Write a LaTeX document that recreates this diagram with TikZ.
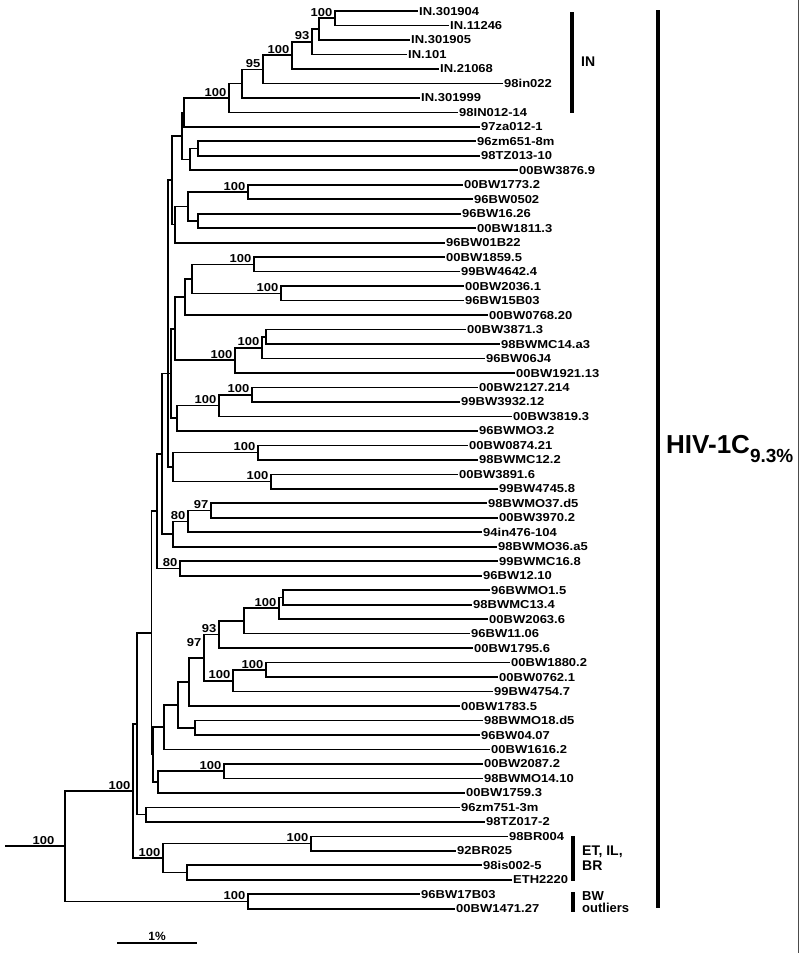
\documentclass[tikz,border=0pt]{standalone}
\usepackage{fontspec}
\setmainfont{Liberation Sans}
\newfontfamily\treefont{Liberation Sans}[FakeStretch=1.13]
\newfontfamily\cladefont{Liberation Sans}
\usetikzlibrary{positioning, calc}
\tikzstyle{leaf} = [anchor=west, inner sep=1pt, font=\treefont\bfseries\fontsize{11.5}{11}\selectfont, text height=8pt, text depth=0pt]
\tikzstyle{boot} = [anchor=south east, inner sep=0.5pt, xshift=-2pt, yshift=1pt, font=\treefont\bfseries\fontsize{11.5}{11}\selectfont]
\tikzstyle{branch} = [line width=1.7pt]
\tikzstyle{cladebar} = [line width=3.2pt]
\tikzstyle{cladetext} = [anchor=west, inner sep=0pt, align=left, font=\cladefont\bfseries\fontsize{14}{15}\selectfont]

\begin{document}
\begin{tikzpicture}[x=1pt, y=-14.48pt]
  \useasboundingbox (0pt,0pt) rectangle (800pt,-953pt);
  \begin{scope}[yshift=-11pt]
  % Leaves
  \foreach \k/\x/\txt in {0/418/IN.301904, 1/449/IN.11246, 2/410/IN.301905, 3/407/IN.101,
      4/439/IN.21068, 5/503/98in022, 6/420/IN.301999, 7/458/98IN012-14, 8/480/97za012-1,
      9/476/96zm651-8m, 10/480/98TZ013-10, 11/518/00BW3876.9, 12/463/00BW1773.2,
      13/473/96BW0502, 14/461/96BW16.26, 15/476/00BW1811.3, 16/445/96BW01B22,
      17/445/00BW1859.5, 18/460/99BW4642.4, 19/464/00BW2036.1, 20/464/96BW15B03,
      21/488/00BW0768.20, 22/466/00BW3871.3, 23/500/98BWMC14.a3, 24/485/96BW06J4,
      25/515/00BW1921.13, 26/478/00BW2127.214, 27/460/99BW3932.12, 28/512/00BW3819.3,
      29/478/96BWMO3.2, 30/468/00BW0874.21, 31/478/98BWMC12.2, 32/458/00BW3891.6,
      33/498/99BW4745.8, 34/487/98BWMO37.d5, 35/498/00BW3970.2, 36/482/94in476-104,
      37/497/98BWMO36.a5, 38/498/99BWMC16.8, 39/482/96BW12.10, 40/490/96BWMO1.5,
      41/472/98BWMC13.4, 42/488/00BW2063.6, 43/470/96BW11.06, 44/473/00BW1795.6,
      45/510/00BW1880.2, 46/498/00BW0762.1, 47/493/99BW4754.7, 48/460/00BW1783.5,
      49/483/98BWMO18.d5, 50/480/96BW04.07, 51/490/00BW1616.2, 52/483/00BW2087.2,
      53/483/98BWMO14.10, 54/465/00BW1759.3, 55/460/96zm751-3m, 56/485/98TZ017-2,
      57/508/98BR004, 58/456/92BR025, 59/482/98is002-5, 60/512/ETH2220,
      61/420/96BW17B03, 62/455/00BW1471.27}
    \node[leaf] (l\k) at (\x,\k) {\txt};
  % Internal nodes
  \foreach \n/\x/\y in {n1/335/0.5, n2/319/1.25, n3/312/2.125, n4/292/3.0625, n5/263/4.031,
      n6/242/5.016, n7/229/6.008, n8/184/7.004, n10/198/9.5, n11/190/10.25, n9/182/8.627,
      n13/248/12.5, n14/198/14.5, n15/188/13.5, n16/175/14.75, n12/172/11.689, n17/168/25.03,
      a1/254/17.5, a2/281/19.5, a3/192/18.5, a4/185/19.75, a5/266/22.5, a6/262/23.25,
      a7/235/24.125, a8/175/21.94, a9/252/26.5, a10/219/27.25, a11/177/28.125, a12/171/25.03,
      c1/258/30.5, c2/271/32.5, c3/173/31.5, c4/211/34.5, c5/188/35.25, c6/173/36.125,
      c7/180/38.5, c8/162/30.58, c9/157/34.54,
      d1/283/40.5, d2/279/41.25, d3/244/42.125, d4/219/43.06, d5/266/45.5, d6/233/46.25,
      d7/204/44.66, d8/189/46.33, d9/195/49.5, d10/178/47.91, d11/164/49.46, d12/224/52.5,
      d13/158/53.25, d14/153/51.35, d15/151.5/42.95, d16/146/55.5, d17/137/49.22,
      e1/311/57.5, e2/187/59.5, e3/163/58.5, e4/133/53.86, e5/248/61.5, root/65/57.68}
    \coordinate (\n) at (\x,\y);
  \coordinate (stem) at (5,57.68);
  % Branches
  \foreach \pa/\ch in {n1/l0, n1/l1, n2/n1, n2/l2, n3/n2, n3/l3, n4/n3, n4/l4, n5/n4, n5/l5,
      n6/n5, n6/l6, n7/n6, n7/l7, n8/n7, n8/l8, n10/l9, n10/l10, n11/n10, n11/l11, n9/n8, n9/n11,
      n13/l12, n13/l13, n14/l14, n14/l15, n15/n13, n15/n14, n16/n15, n16/l16, n12/n9, n12/n16,
      n17/n12, n17/a12, n17/c3,
      a1/l17, a1/l18, a2/l19, a2/l20, a3/a1, a3/a2, a4/a3, a4/l21, a5/l22, a5/l23, a6/a5, a6/l24,
      a7/a6, a7/l25, a8/a4, a8/a7, a9/l26, a9/l27, a10/a9, a10/l28, a11/a10, a11/l29,
      a12/a8, a12/a11,
      c1/l30, c1/l31, c2/l32, c2/l33, c3/c1, c3/c2, c4/l34, c4/l35, c5/c4, c5/l36, c6/c5, c6/l37,
      c7/l38, c7/l39, c8/n17, c8/c6, c9/c8, c9/c7,
      d1/l40, d1/l41, d2/d1, d2/l42, d3/d2, d3/l43, d4/d3, d4/l44, d5/l45, d5/l46, d6/d5, d6/l47,
      d7/d4, d7/d6, d8/d7, d8/l48, d9/l49, d9/l50, d10/d8, d10/d9, d11/d10, d11/l51,
      d12/l52, d12/l53, d13/d12, d13/l54, d14/d11, d14/d13, d15/c9, d15/d14, d16/l55, d16/l56,
      d17/d15, d17/d16,
      e1/l57, e1/l58, e2/l59, e2/l60, e3/e1, e3/e2, e4/d17, e4/e3, e5/l61, e5/l62,
      root/e4, root/e5}
    \draw[branch] (\pa) |- (\ch);
  \draw[branch] (stem) -- (root);
  % Bootstrap values
  \foreach \n/\v in {n1/100, n3/93, n4/100, n5/95, n7/100, n13/100, a1/100, a2/100, a6/100,
      a7/100, a9/100, a10/100, c1/100, c2/100, c4/97, c5/80, c7/80, d2/100, d4/93, d5/100,
      d6/100, d12/100, e1/100, e3/100, e4/100, e5/100}
    \node[boot] (b\n) at (\n) {\v};
  \node[boot, yshift=9pt] (bd7) at (d7) {97};
  \node[boot, xshift=-8pt] (broot) at (root) {100};
  \end{scope}
  % Clade bars
  \draw[cladebar] (572pt,-12pt) -- (572pt,-113pt);
  \node[cladetext] (inlab) at (581pt,-62pt) {IN};
  \draw[cladebar, line width=3.6pt] (658pt,-10pt) -- (658pt,-908pt);
  \node[anchor=west, inner sep=0pt, font=\cladefont\bfseries\fontsize{26}{26}\selectfont] (hiv) at (666pt,-449pt)
    {HIV-1C\raisebox{-9pt}{\fontsize{19}{19}\selectfont 9.3\%}};
  \draw[cladebar] (573pt,-836pt) -- (573pt,-881pt);
  \node[cladetext] (etlab) at (582pt,-858pt) {ET, IL,\\BR};
  \draw[cladebar] (573pt,-892pt) -- (573pt,-912pt);
  \node[cladetext, font=\cladefont\bfseries\fontsize{13}{12}\selectfont] (bwlab) at (582pt,-902pt) {BW\\outliers};
  % Scale bar
  \draw[branch] (117pt,-943pt) coordinate (sb0) -- (197pt,-943pt) coordinate (sb1);
  \node[above=2pt of $(sb0)!0.5!(sb1)$, inner sep=0pt, font=\cladefont\bfseries\fontsize{12}{12}\selectfont] (sblab) {1\%};
  % Frame edge
  \draw[line width=0.8pt, black!70] (798pt,0pt) -- (798pt,-953pt);
\end{tikzpicture}
\end{document}
